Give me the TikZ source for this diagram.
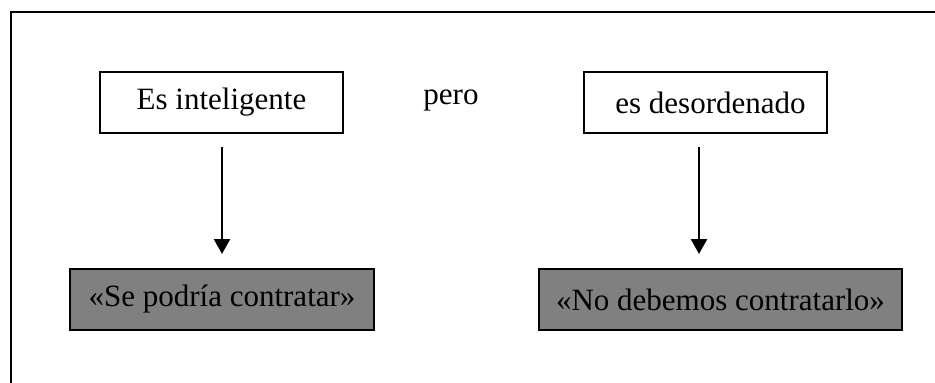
\documentclass[tikz,border=0pt]{standalone}
\usepackage{fontspec}
\setmainfont{Liberation Serif}
\usetikzlibrary{arrows.meta}
\begin{document}
\begin{tikzpicture}[x=1pt,y=-1pt,
  every node/.style={font=\fontsize{31}{36}\selectfont, inner sep=0pt},
  wbox/.style={draw=black, line width=2.4pt, fill=white, minimum height=61pt},
  gbox/.style={draw=black, line width=2.4pt, fill={rgb,255:red,128;green,128;blue,128}, minimum height=61pt},
  arr/.style={line width=2.4pt, -{Triangle[length=15pt,width=16pt]}}
]
\useasboundingbox (0,0) rectangle (935,383);
\coordinate (fTL) at (11,12);
\coordinate (fTR) at (936,12);
\coordinate (fBL) at (11,384);
\draw[line width=2.4pt] (fTR) -- (fTL) -- (fBL);

\node[wbox, minimum width=243pt] (b1) at (221.5,102.5) {Es inteligente};
\node[wbox, minimum width=243pt] (b2) at (705.5,102.5) {\hspace{10pt}es desordenado};
\node (pero) at (451,100) {pero};
\node[gbox, minimum width=304pt] (g1) at (222,299.5) {«Se podría contratar»};
\node[gbox, minimum width=363pt] (g2) at (720.5,299.5) {«No debemos contratarlo»};

\coordinate (a1s) at (222,147);
\coordinate (a1e) at (222,254);
\coordinate (a2s) at (699,147);
\coordinate (a2e) at (699,254);
\draw[arr] (a1s) -- (a1e);
\draw[arr] (a2s) -- (a2e);
\end{tikzpicture}
\end{document}
